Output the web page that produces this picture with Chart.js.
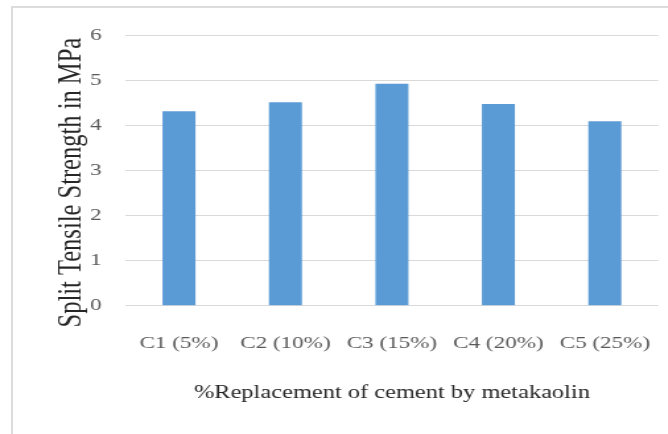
<!DOCTYPE html>
<html>
<head>
<meta charset="utf-8">
<title>Split Tensile Strength</title>
<script src="https://cdn.jsdelivr.net/npm/chart.js@4/dist/chart.umd.min.js"></script>
<style>
  html, body { margin: 0; padding: 0; background: #ffffff; }
  body { width: 668px; height: 434px; position: relative; overflow: hidden; }
  /* light frame around the chart area of the page */
  .frame {
    position: absolute; left: 11px; top: 6px; right: -4px; bottom: -4px;
    border-top: 2px solid #dcdcdc; border-left: 2px solid #dcdcdc;
  }
  /* the chart is laid out narrow and widened, giving the broad serif lettering */
  .wrap {
    position: absolute; left: 0; top: 0; width: 520px; height: 434px;
    transform: scaleX(1.32); transform-origin: 0 0;
  }
</style>
</head>
<body>
<div class="frame"></div>
<div class="wrap"><canvas id="chart"></canvas></div>
<script>
// Mix labels and measured split tensile strength (MPa)
const categories = ['C1 (5%)', 'C2 (10%)', 'C3 (15%)', 'C4 (20%)', 'C5 (25%)'];
const strengthMPa = [4.31, 4.51, 4.92, 4.47, 4.09];
const yTicks = [0, 1, 2, 3, 4, 5, 6];

const xTitle = '%Replacement of cement by metakaolin';
// trailing spaces nudge the rotated title toward the bottom of the chart
const yTitle = 'Split Tensile Strength in MPa    ';

const serif = "'Liberation Serif', 'Times New Roman', serif";

new Chart(document.getElementById('chart'), {
  type: 'bar',
  data: {
    labels: categories,
    datasets: [{
      data: strengthMPa,
      backgroundColor: '#5b9bd5',
      borderWidth: 0,
      categoryPercentage: 1,
      barPercentage: 0.31
    }]
  },
  options: {
    responsive: true,
    maintainAspectRatio: false,
    animation: false,
    devicePixelRatio: 1,
    layout: { padding: { top: 35, right: 0, bottom: 30, left: 32 } },
    plugins: {
      legend: { display: false },
      tooltip: { enabled: false }
    },
    scales: {
      x: {
        grid: { display: false, drawTicks: false },
        border: { display: false },
        ticks: {
          color: '#595959',
          padding: 27.5,
          maxRotation: 0,
          autoSkip: false,
          font: { family: serif, size: 17.5 }
        },
        title: {
          display: true,
          text: xTitle,
          color: '#262626',
          padding: { top: 0, bottom: 0 },
          font: { family: serif, size: 18.5 }
        }
      },
      y: {
        min: 0,
        max: 6,
        afterBuildTicks: (scale) => { scale.ticks = yTicks.map(v => ({ value: v })); },
        grid: { color: '#d9d9d9', lineWidth: 1, drawTicks: false },
        border: { display: false },
        ticks: {
          color: '#595959',
          padding: 18.2,
          font: { family: serif, size: 17.5 }
        },
        title: {
          display: true,
          text: yTitle,
          color: '#262626',
          // compact title box so the tick labels sit close to the plot
          padding: { top: 21, bottom: -6.9 },
          font: { family: serif, size: 24.5, lineHeight: '4px' }
        }
      }
    }
  }
});
</script>
</body>
</html>
